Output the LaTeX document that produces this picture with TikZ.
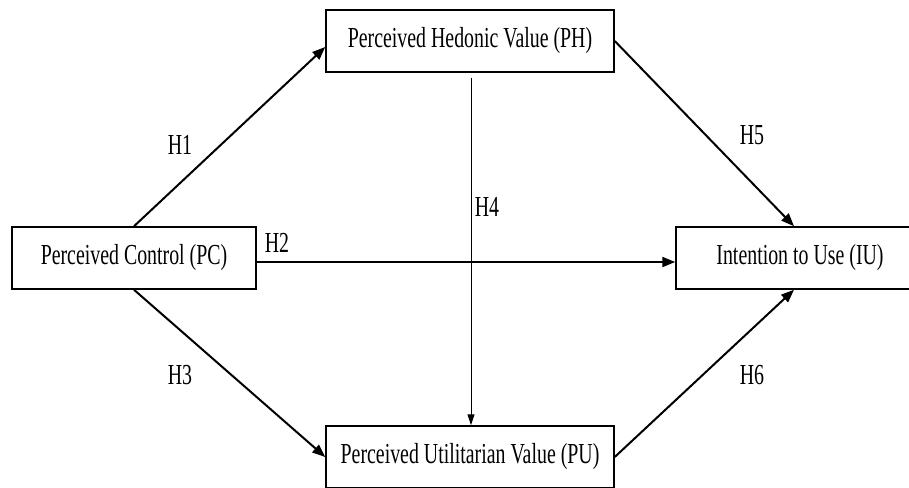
\documentclass[tikz,border=0pt]{standalone}
\usepackage{fontspec}
\setmainfont{Liberation Serif}
\newfontfamily\tnr[FakeStretch=0.685]{Liberation Serif}
\usetikzlibrary{arrows.meta,calc}
\begin{document}
\begin{tikzpicture}[x=1pt,y=-1pt,
  box/.style={draw=black,line width=1.5pt,fill=white,inner sep=0pt,font=\tnr\fontsize{29}{32}\selectfont},
  lab/.style={inner sep=0pt,font=\tnr\fontsize{29}{32}\selectfont},
  conn/.style={line width=2pt,-{Triangle[length=13pt,width=10pt]}},
  thin/.style={line width=1pt,-{Triangle[length=11pt,width=7pt]}}]
\useasboundingbox[fill=white] (0,0) rectangle (909,487);
\begin{scope}
\clip (0,0) rectangle (909,487);
\node[box,minimum width=288pt,minimum height=62pt] (PH) at (470,41) {Perceived Hedonic Value (PH)};
\node[box,minimum width=244pt,minimum height=62pt] (PC) at (134,258) {Perceived Control (PC)};
\node[box,minimum width=248pt,minimum height=62pt] (IU) at (800,258) {Intention to Use (IU)};
\node[box,minimum width=288pt,minimum height=62pt] (PU) at (470,457) {Perceived Utilitarian Value (PU)};
\end{scope}
\draw[conn] (PC.north) -- ($(PH.west)+(0,6)$);
\draw[conn] (PH.east) -- ($(IU.north)+(-6,0)$);
\draw[conn] ($(PC.east)+(0,4)$) -- ($(IU.west)+(0,4)$);
\draw[thin] ($(PH.south)+(1,5)$) -- ($(PU.north)+(1,0)$);
\draw[conn] (PC.south) -- (PU.west);
\draw[conn] (PU.east) -- ($(IU.south)+(-6,0)$);
\node[lab] (h1) at (180,145) {H1};
\node[lab] (h2) at (277,243) {H2};
\node[lab] (h3) at (180,375) {H3};
\node[lab] (h4) at (487,207) {H4};
\node[lab] (h5) at (752,135) {H5};
\node[lab] (h6) at (752,375) {H6};
\end{tikzpicture}
\end{document}
